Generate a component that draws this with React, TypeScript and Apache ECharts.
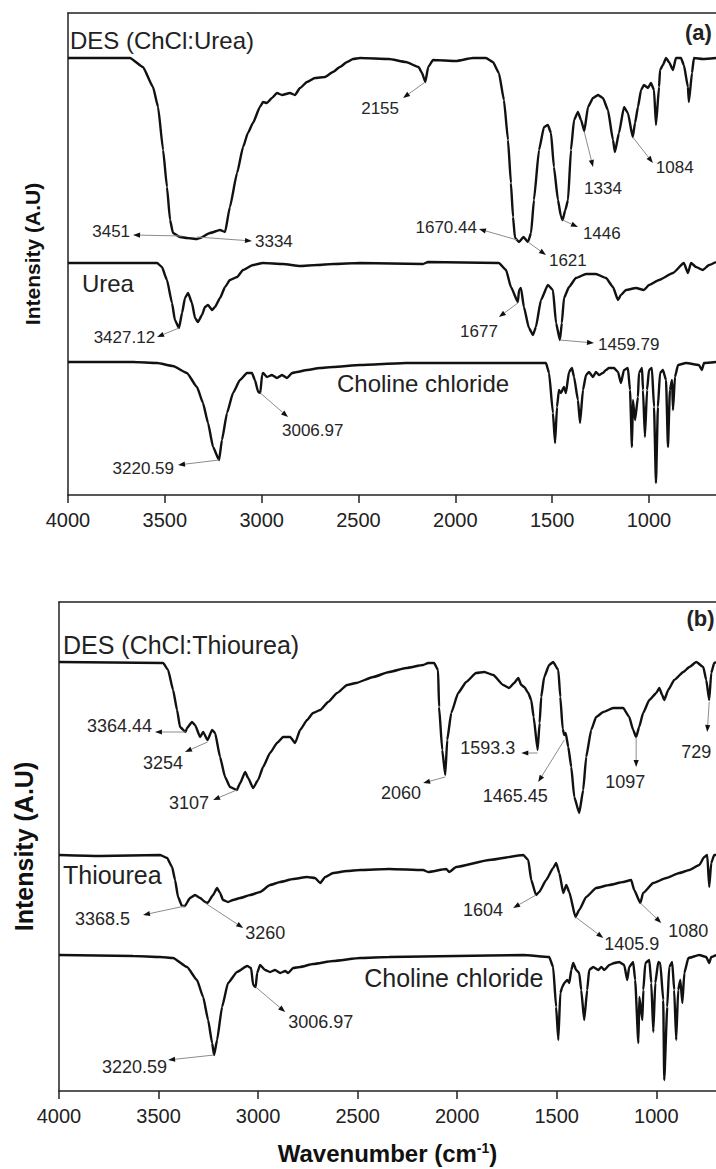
import { useEffect, useRef } from "react";
import * as echarts from "echarts";

const FONT = '"Liberation Sans", Arial, Helvetica, sans-serif';

// Wavenumber ticks shared by both panels
const X_TICKS = [4000, 3500, 3000, 2500, 2000, 1500, 1000];

// ---------- Panel (a): ChCl:Urea ----------
// [wavenumber (cm-1), intensity (A.U)]
const desUrea: [number, number][] = [
  [4000, 437], [3680, 437], [3613, 428], [3561, 408], [3535, 388], [3509, 345], [3489, 308],
  [3473, 275], [3458, 262], [3422, 258], [3386, 257], [3334, 256], [3318, 257], [3267, 262],
  [3215, 265], [3189, 263], [3164, 288], [3127, 322], [3096, 348], [3071, 362], [3045, 372],
  [3009, 388], [2993, 393], [2973, 392], [2947, 397], [2921, 402], [2895, 400], [2854, 402],
  [2828, 400], [2802, 407], [2766, 413], [2725, 417], [2673, 418], [2632, 423], [2596, 428],
  [2559, 433], [2528, 436], [2492, 437], [2343, 436], [2255, 433], [2190, 428], [2172, 422],
  [2155, 413], [2140, 428], [2115, 435], [1997, 434], [1909, 437], [1842, 437], [1806, 433],
  [1775, 422], [1749, 395], [1728, 355], [1713, 312], [1702, 278], [1692, 257], [1671, 253],
  [1648, 258], [1625, 253], [1609, 262], [1594, 295], [1568, 345], [1542, 368], [1522, 370],
  [1506, 362], [1491, 328], [1470, 295], [1455, 279], [1446, 275], [1432, 285], [1418, 295],
  [1403, 345], [1387, 375], [1367, 383], [1351, 375], [1334, 364], [1315, 388], [1289, 397],
  [1263, 400], [1238, 397], [1212, 385], [1186, 355], [1176, 343], [1155, 362], [1129, 388],
  [1109, 382], [1084, 358], [1072, 372], [1057, 388], [1041, 405], [1026, 410], [1005, 407],
  [990, 412], [974, 405], [964, 370], [948, 408], [943, 425], [928, 430], [912, 437],
  [897, 433], [876, 425], [861, 437], [835, 437], [820, 430], [799, 408], [794, 393],
  [778, 422], [768, 437], [722, 436], [654, 437],
];

const urea: [number, number][] = [
  [4000, 232], [3540, 232], [3515, 228], [3489, 215], [3463, 192], [3448, 175], [3427, 167],
  [3411, 182], [3396, 197], [3380, 202], [3360, 192], [3344, 177], [3329, 173], [3308, 180],
  [3293, 188], [3277, 190], [3256, 185], [3241, 188], [3215, 197], [3189, 208], [3164, 215],
  [3127, 218], [3096, 225], [3045, 230], [2993, 232], [2890, 231], [2802, 229], [2714, 230],
  [2632, 231], [2492, 232], [2167, 231], [2141, 233], [1775, 232], [1738, 225], [1713, 208],
  [1677, 193], [1671, 205], [1661, 207], [1646, 188], [1620, 167], [1599, 160], [1584, 168],
  [1558, 195], [1522, 210], [1496, 205], [1480, 172], [1460, 155], [1450, 172], [1439, 197],
  [1413, 208], [1377, 217], [1325, 221], [1274, 221], [1222, 217], [1186, 208], [1160, 195],
  [1145, 200], [1119, 205], [1067, 207], [1026, 205], [1000, 210], [948, 215], [876, 222],
  [820, 232], [799, 222], [783, 232], [757, 228], [722, 225], [690, 230], [654, 233],
];

const cholineA: [number, number][] = [
  [4000, 133], [3664, 133], [3540, 132], [3458, 129], [3386, 122], [3334, 108], [3303, 92],
  [3277, 72], [3251, 48], [3220, 35], [3205, 55], [3179, 82], [3148, 102], [3112, 115],
  [3076, 122], [3050, 122], [3035, 115], [3018, 103], [3007, 102], [2998, 120], [2993, 122],
  [2973, 118], [2947, 120], [2921, 117], [2895, 120], [2869, 117], [2843, 122], [2818, 123],
  [2766, 125], [2699, 127], [2632, 128], [2492, 130], [2255, 132], [1997, 132], [1738, 132],
  [1532, 132], [1516, 122], [1496, 82], [1485, 52], [1475, 88], [1465, 105], [1455, 102],
  [1439, 108], [1429, 102], [1413, 123], [1398, 127], [1387, 118], [1367, 95], [1356, 72],
  [1341, 105], [1325, 120], [1310, 123], [1289, 118], [1274, 123], [1258, 120], [1238, 122],
  [1222, 125], [1207, 127], [1181, 127], [1160, 123], [1145, 112], [1129, 125], [1109, 127],
  [1098, 105], [1088, 48], [1083, 95], [1072, 75], [1057, 98], [1052, 122], [1036, 127],
  [1031, 105], [1021, 58], [1010, 105], [1000, 125], [985, 127], [974, 88], [964, 12],
  [954, 88], [943, 122], [928, 125], [912, 115], [902, 48], [892, 105], [881, 115],
  [876, 85], [866, 118], [850, 130], [809, 132], [742, 130], [727, 125], [716, 132], [654, 133],
];

// ---------- Panel (b): ChCl:Thiourea ----------
const desThiourea: [number, number][] = [
  [4000, 429], [3477, 428], [3452, 421], [3427, 401], [3407, 381], [3392, 364], [3364, 359],
  [3357, 363], [3332, 369], [3317, 366], [3291, 354], [3276, 359], [3254, 351], [3231, 361],
  [3216, 358], [3191, 334], [3166, 314], [3141, 304], [3107, 301], [3090, 308], [3065, 319],
  [3050, 313], [3025, 303], [3000, 311], [2975, 324], [2940, 338], [2905, 348], [2874, 354],
  [2839, 354], [2814, 348], [2789, 361], [2754, 371], [2724, 378], [2688, 381], [2648, 389],
  [2603, 398], [2553, 406], [2508, 408], [2422, 414], [2342, 419], [2256, 423], [2171, 426],
  [2146, 428], [2116, 428], [2096, 421], [2091, 384], [2075, 341], [2060, 316], [2050, 351],
  [2030, 378], [1995, 398], [1955, 409], [1905, 418], [1864, 419], [1819, 416], [1769, 406],
  [1739, 403], [1714, 408], [1693, 413], [1678, 406], [1663, 404], [1643, 398], [1628, 391],
  [1616, 374], [1596, 341], [1586, 368], [1578, 394], [1563, 414], [1538, 426], [1518, 429],
  [1492, 421], [1482, 394], [1470, 362], [1462, 356], [1455, 358], [1442, 344], [1427, 324],
  [1412, 294], [1387, 278], [1367, 301], [1352, 334], [1327, 361], [1302, 374], [1266, 379],
  [1216, 383], [1166, 383], [1136, 374], [1116, 361], [1101, 354], [1086, 364], [1066, 378],
  [1035, 391], [1000, 398], [985, 403], [970, 396], [960, 391], [940, 401], [910, 411],
  [864, 419], [834, 424], [799, 429], [764, 424], [749, 411], [734, 391], [724, 418],
  [709, 428], [700, 429],
];

const thiourea: [number, number][] = [
  [4000, 236], [3794, 235], [3492, 236], [3457, 233], [3432, 224], [3417, 211], [3402, 194],
  [3382, 185], [3368, 185], [3342, 193], [3317, 196], [3291, 193], [3266, 189], [3254, 188],
  [3226, 196], [3206, 203], [3191, 198], [3176, 191], [3151, 189], [3126, 191], [3090, 193],
  [3040, 196], [2990, 199], [2940, 206], [2889, 209], [2824, 212], [2754, 214], [2714, 213],
  [2688, 208], [2663, 214], [2623, 218], [2553, 220], [2487, 221], [2342, 222], [2171, 221],
  [2146, 219], [2055, 222], [2040, 219], [2005, 224], [1839, 231], [1668, 236], [1643, 231],
  [1628, 211], [1604, 196], [1588, 199], [1553, 211], [1518, 223], [1503, 228], [1487, 218],
  [1467, 198], [1452, 206], [1437, 199], [1406, 174], [1387, 181], [1352, 194], [1302, 203],
  [1236, 206], [1166, 209], [1126, 211], [1111, 201], [1080, 188], [1066, 198], [1015, 208],
  [950, 213], [884, 218], [834, 221], [784, 226], [759, 234], [744, 236], [734, 204],
  [724, 228], [709, 236], [700, 236],
];

const cholineB: [number, number][] = [
  [4000, 136], [3628, 135], [3492, 134], [3427, 133], [3357, 124], [3307, 111], [3276, 94],
  [3251, 71], [3231, 48], [3221, 36], [3206, 51], [3181, 84], [3151, 108], [3106, 119],
  [3055, 125], [3035, 123], [3025, 106], [3012, 104], [3005, 118], [2990, 126], [2965, 121],
  [2940, 119], [2915, 121], [2889, 118], [2864, 120], [2849, 118], [2824, 123], [2789, 124],
  [2724, 127], [2623, 130], [2487, 133], [2342, 134], [2005, 135], [1668, 136], [1538, 134],
  [1518, 124], [1503, 84], [1492, 51], [1482, 98], [1472, 104], [1462, 108], [1447, 111],
  [1437, 108], [1427, 121], [1417, 128], [1402, 121], [1387, 118], [1377, 101], [1362, 71],
  [1347, 101], [1337, 121], [1317, 124], [1291, 121], [1276, 124], [1261, 121], [1236, 126],
  [1211, 128], [1186, 129], [1161, 126], [1146, 111], [1136, 124], [1116, 129], [1106, 111],
  [1090, 48], [1085, 94], [1070, 71], [1065, 101], [1055, 128], [1035, 131], [1025, 108],
  [1015, 59], [1005, 108], [990, 129], [980, 128], [965, 91], [960, 11], [945, 84],
  [935, 124], [920, 129], [910, 101], [900, 51], [890, 101], [879, 111], [869, 88],
  [859, 118], [839, 133], [784, 136], [749, 134], [734, 128], [724, 134], [699, 136],
];

// Peak call-outs: [label, peak wn, peak intensity, arrow-head wn, arrow-head intensity]
type Note = [string, number, number, number, number];
const notesA: Note[] = [
  ["3451", 3411, 259, 3664, 260],
  ["3334", 3334, 258, 3050, 254],
  ["2155", 2155, 413, 2270, 397],
  ["1670.44", 1680, 255, 1878, 266],
  ["1621", 1625, 253, 1532, 240],
  ["1446", 1446, 275, 1367, 268],
  ["1334", 1334, 363, 1289, 328],
  ["1084", 1084, 358, 980, 332],
  ["3427.12", 3427, 167, 3540, 158],
  ["1677", 1677, 192, 1775, 178],
  ["1459.79", 1460, 155, 1284, 152],
  ["3220.59", 3220, 35, 3432, 30],
  ["3006.97", 3007, 102, 2864, 78],
];
const notesB: Note[] = [
  ["3364.44", 3364, 359, 3518, 359],
  ["3254", 3254, 349, 3367, 339],
  ["3107", 3107, 301, 3226, 291],
  ["2060", 2060, 314, 2171, 308],
  ["1593.3", 1596, 338, 1678, 338],
  ["1465.45", 1462, 351, 1593, 309],
  ["1097", 1101, 354, 1101, 324],
  ["729", 734, 389, 744, 359],
  ["3368.5", 3368, 185, 3578, 176],
  ["3260", 3266, 188, 3075, 163],
  ["1604", 1604, 196, 1719, 183],
  ["1405.9", 1406, 174, 1266, 153],
  ["1080", 1080, 188, 975, 168],
  ["3220.59", 3221, 36, 3452, 31],
  ["3006.97", 3012, 104, 2864, 79],
];

// Where each call-out text sits relative to its arrow head: [textAlign, dx, dy] in px
type Place = ["left" | "right" | "center", number, number];
const placeA: Place[] = [
  ["right", -3, -4], ["left", 3, 0], ["right", -4, 10], ["right", -2, -2], ["left", 3, 5],
  ["left", 5, 6], ["center", 10, 21], ["left", 3, 4], ["right", -2, 0], ["right", -1, 14],
  ["left", 4, 1], ["right", -4, 3], ["left", -6, 13],
];
const placeB: Place[] = [
  ["right", -3, -6], ["right", -2, 11], ["right", -4, 3], ["right", -2, 10], ["right", -6, -5],
  ["center", -23, 14], ["center", -11, 15], ["center", -11, 20], ["right", -13, 4], ["left", 2, 5],
  ["right", -10, 2], ["left", 1, 6], ["left", 7, 8], ["right", -1, 7], ["left", 3, 10],
];

// Trace names: [text, wn, intensity]
const namesA: [string, number, number][] = [
  ["DES (ChCl:Urea)", 3990, 455],
  ["Urea", 3928, 212],
  ["Choline chloride", 2611, 112],
];
const namesB: [string, number, number][] = [
  ["DES (ChCl:Thiourea)", 3980, 446],
  ["Thiourea", 3980, 216],
  ["Choline chloride", 2467, 113],
];

const AXIS_COLOR = "#222";
const LINE_COLOR = "#111";

function arrowRenderer(notes: Note[], place: Place[], size: number) {
  return (params: any, api: any) => {
    const i = params.dataIndex;
    const t = api.coord([api.value(0), api.value(1)]);
    const h = api.coord([api.value(2), api.value(3)]);
    const dx = h[0] - t[0];
    const dy = h[1] - t[1];
    const len = Math.hypot(dx, dy) || 1;
    const ux = dx / len;
    const uy = dy / len;
    const L = 7;
    const W = 2.6;
    const bx = h[0] - ux * L;
    const by = h[1] - uy * L;
    const [align, ox, oy] = place[i];
    return {
      type: "group",
      children: [
        {
          type: "line",
          shape: { x1: t[0], y1: t[1], x2: bx, y2: by },
          style: { stroke: "#8c8c8c", lineWidth: 1 },
        },
        {
          type: "polygon",
          shape: {
            points: [
              [h[0], h[1]],
              [bx - uy * W, by + ux * W],
              [bx + uy * W, by - ux * W],
            ],
          },
          style: { fill: "#111" },
        },
        {
          type: "text",
          x: h[0] + ox,
          y: h[1] + oy,
          style: {
            text: notes[i][0],
            fontSize: size,
            fontFamily: FONT,
            fill: "#262626",
            align,
            verticalAlign: "middle",
          },
        },
      ],
    };
  };
}

function nameRenderer(names: [string, number, number][], size: number) {
  return (params: any, api: any) => {
    const i = params.dataIndex;
    const p = api.coord([api.value(0), api.value(1)]);
    return {
      type: "text",
      x: p[0],
      y: p[1],
      style: {
        text: names[i][0],
        fontSize: size,
        fontFamily: FONT,
        fill: "#222",
        align: "left",
        verticalAlign: "middle",
      },
    };
  };
}

function letterRenderer(text: string) {
  return (_params: any, api: any) => {
    const p = api.coord([api.value(0), api.value(1)]);
    return {
      type: "text",
      x: p[0],
      y: p[1],
      style: {
        text,
        fontSize: 22,
        fontWeight: "bold",
        fontFamily: FONT,
        fill: "#222",
        align: "right",
        verticalAlign: "middle",
      },
    };
  };
}

function bottomAxis(gridIndex: number, min: number, extra: any = {}) {
  return {
    type: "value",
    gridIndex,
    inverse: true,
    min,
    max: 4000,
    position: "bottom",
    axisLine: { show: true, onZero: false, lineStyle: { color: AXIS_COLOR, width: 1.5 } },
    axisTick: {
      show: true,
      inside: false,
      length: 8,
      customValues: X_TICKS,
      lineStyle: { color: AXIS_COLOR, width: 1.5 },
    },
    axisLabel: {
      show: true,
      customValues: X_TICKS,
      formatter: (v: number) => String(v),
      fontSize: 20,
      fontFamily: FONT,
      color: "#222",
      margin: 15,
    },
    splitLine: { show: false },
    ...extra,
  };
}

function topAxis(gridIndex: number, min: number) {
  return {
    type: "value",
    gridIndex,
    inverse: true,
    min,
    max: 4000,
    position: "top",
    axisLine: { show: true, onZero: false, lineStyle: { color: AXIS_COLOR, width: 1.5 } },
    axisTick: { show: false },
    axisLabel: { show: false },
    splitLine: { show: false },
  };
}

function leftAxis(gridIndex: number, max: number, fontSize: number, nameGap: number) {
  return {
    type: "value",
    gridIndex,
    min: 0,
    max,
    name: "Intensity (A.U)",
    nameLocation: "middle",
    nameGap,
    nameTextStyle: { fontSize, fontWeight: "bold", fontFamily: FONT, color: "#111" },
    axisLine: { show: true, onZero: false, lineStyle: { color: AXIS_COLOR, width: 1.5 } },
    axisTick: { show: false },
    axisLabel: { show: false },
    splitLine: { show: false },
  };
}

function spectrum(data: [number, number][], xAxisIndex: number, yAxisIndex: number) {
  return {
    type: "line",
    xAxisIndex,
    yAxisIndex,
    data,
    symbol: "none",
    showSymbol: false,
    smooth: 0.15,
    smoothMonotone: "x",
    lineStyle: { color: LINE_COLOR, width: 2.4 },
    z: 2,
  };
}

export default function App() {
  const ref = useRef<HTMLDivElement>(null);

  useEffect(() => {
    document.body.style.margin = "0";
    if (!ref.current) return;
    const chart = echarts.init(ref.current, undefined, { renderer: "svg" });

    const option: any = {
      animation: false,
      backgroundColor: "#ffffff",
      textStyle: { fontFamily: FONT },
      grid: [
        { left: 68, top: 13, right: 0, height: 482 },
        { left: 59, top: 602, right: 0, height: 489 },
      ],
      xAxis: [
        bottomAxis(0, 654),
        topAxis(0, 654),
        bottomAxis(1, 700, {
          name: "Wavenumber (cm{sup|-1})",
          nameLocation: "middle",
          nameGap: 50,
          nameTextStyle: {
            fontSize: 24,
            fontWeight: "bold",
            fontFamily: FONT,
            color: "#111",
            rich: {
              sup: {
                fontSize: 14,
                fontWeight: "bold",
                fontFamily: FONT,
                color: "#111",
                verticalAlign: "top",
                padding: [0, 0, 10, 0],
              },
            },
          },
        }),
        topAxis(1, 700),
      ],
      yAxis: [leftAxis(0, 482, 21, 25), leftAxis(1, 489, 25, 23)],
      series: [
        spectrum(desUrea, 0, 0),
        spectrum(urea, 0, 0),
        spectrum(cholineA, 0, 0),
        spectrum(desThiourea, 2, 1),
        spectrum(thiourea, 2, 1),
        spectrum(cholineB, 2, 1),
        {
          type: "custom",
          xAxisIndex: 0,
          yAxisIndex: 0,
          data: notesA.map((n) => [n[1], n[2], n[3], n[4]]),
          encode: { x: [0, 2], y: [1, 3] },
          renderItem: arrowRenderer(notesA, placeA, 17),
          silent: true,
          z: 5,
        },
        {
          type: "custom",
          xAxisIndex: 2,
          yAxisIndex: 1,
          data: notesB.map((n) => [n[1], n[2], n[3], n[4]]),
          encode: { x: [0, 2], y: [1, 3] },
          renderItem: arrowRenderer(notesB, placeB, 18),
          silent: true,
          z: 5,
        },
        {
          type: "custom",
          xAxisIndex: 0,
          yAxisIndex: 0,
          data: namesA.map((n) => [n[1], n[2]]),
          encode: { x: 0, y: 1 },
          renderItem: nameRenderer(namesA, 24),
          silent: true,
          z: 5,
        },
        {
          type: "custom",
          xAxisIndex: 2,
          yAxisIndex: 1,
          data: namesB.map((n) => [n[1], n[2]]),
          encode: { x: 0, y: 1 },
          renderItem: nameRenderer(namesB, 25),
          silent: true,
          z: 5,
        },
        {
          type: "custom",
          xAxisIndex: 0,
          yAxisIndex: 0,
          data: [[675, 463]],
          encode: { x: 0, y: 1 },
          renderItem: letterRenderer("(a)"),
          silent: true,
          z: 5,
        },
        {
          type: "custom",
          xAxisIndex: 2,
          yAxisIndex: 1,
          data: [[707, 473]],
          encode: { x: 0, y: 1 },
          renderItem: letterRenderer("(b)"),
          silent: true,
          z: 5,
        },
      ],
    };

    chart.setOption(option);
    return () => chart.dispose();
  }, []);

  return <div ref={ref} style={{ width: 716, height: 1169 }} />;
}
